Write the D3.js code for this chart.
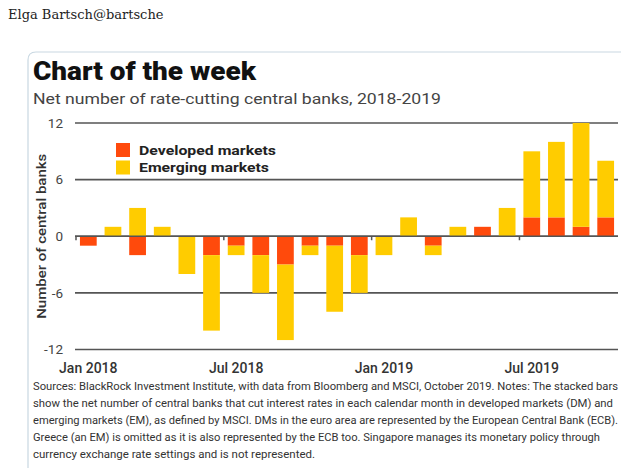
<!DOCTYPE html>
<html>
<head>
<meta charset="utf-8">
<script src="https://cdn.jsdelivr.net/npm/d3@7"></script>
<style>
  html, body { margin: 0; padding: 0; background: #fff; }
  svg { display: block; }
</style>
</head>
<body>
<script>
// ---- data ----
const months = ["Jan 2018","Feb 2018","Mar 2018","Apr 2018","May 2018","Jun 2018",
  "Jul 2018","Aug 2018","Sep 2018","Oct 2018","Nov 2018","Dec 2018",
  "Jan 2019","Feb 2019","Mar 2019","Apr 2019","May 2019","Jun 2019",
  "Jul 2019","Aug 2019","Sep 2019","Oct 2019"];
const developed = [-1, 0, -2, 0, 0, -2, -1, -2, -3, -1, -1, -2, 0, 0, -1, 0, 1, 0, 2, 2, 1, 2];
const emerging  = [ 0, 1,  3, 1, -4, -8, -1, -4, -8, -1, -7, -4, -2, 2, -1, 1, 0, 3, 7, 8, 11, 6];
const seriesNames = ["Developed markets", "Emerging markets"];
const yTicks = [-12, -6, 0, 6, 12];
const xTickLabels = ["Jan 2018", "Jul 2018", "Jan 2019", "Jul 2019"];
const footnote = [
  "Sources: BlackRock Investment Institute, with data from Bloomberg and MSCI, October 2019. Notes: The stacked bars",
  "show the net number of central banks that cut interest rates in each calendar month in developed markets (DM) and",
  "emerging markets (EM), as defined by MSCI. DMs in the euro area are represented by the European Central Bank (ECB).",
  "Greece (an EM) is omitted as it is also represented by the ECB too.  Singapore manages its monetary policy through",
  "currency exchange rate settings and is not represented."
];

// ---- layout ----
const W = 633, H = 468;
const colors = { "Developed markets": "#ff4a0c", "Emerging markets": "#ffcc00" };
const svg = d3.select("body").append("svg").attr("width", W).attr("height", H);

svg.append("text").attr("x", 8).attr("y", 19)
  .attr("font-family", "DejaVu Serif, Georgia, serif").attr("font-size", 13).attr("fill", "#222")
  .text("Elga Bartsch@bartsche");

// card border
svg.append("path").attr("d", "M28,472 V60 Q28,52 36,52 H621")
  .attr("fill", "none").attr("stroke", "#c9d8e2").attr("stroke-width", 1.2);

const g = svg.append("g");

g.append("text").attr("x", 33).attr("y", 80)
  .attr("font-family", "Roboto, Lato, sans-serif").attr("font-weight", 900)
  .attr("font-size", 25).attr("fill", "#111")
  .attr("textLength", 223).attr("lengthAdjust", "spacingAndGlyphs")
  .text("Chart of the week");

g.append("text").attr("x", 33).attr("y", 104)
  .attr("font-family", "Roboto, sans-serif").attr("font-size", 15).attr("fill", "#444")
  .attr("textLength", 408).attr("lengthAdjust", "spacingAndGlyphs")
  .text("Net number of rate-cutting central banks, 2018-2019");

const x = d3.scaleBand().domain(months).range([76, 618]).paddingInner(0.32).paddingOuter(0.16);
const y = d3.scaleLinear().domain([-12, 12]).range([349.5, 123]);

// gridlines
g.append("g").selectAll("line").data(yTicks).join("line")
  .attr("x1", 75).attr("x2", 618)
  .attr("y1", d => y(d)).attr("y2", d => y(d))
  .attr("stroke", "#555").attr("stroke-width", 1.6);

// y tick labels
g.append("g").selectAll("text").data(yTicks).join("text")
  .attr("x", 63).attr("y", d => y(d)).attr("dy", "0.36em")
  .attr("text-anchor", "end")
  .attr("font-family", "Roboto, sans-serif").attr("font-size", 13.5).attr("fill", "#444")
  .text(d => d);

// y axis title
g.append("text")
  .attr("transform", `translate(46,${y(0)}) rotate(-90)`)
  .attr("text-anchor", "middle")
  .attr("font-family", "Roboto, sans-serif").attr("font-weight", 500)
  .attr("font-size", 13).attr("fill", "#333")
  .attr("textLength", 165).attr("lengthAdjust", "spacingAndGlyphs")
  .text("Number of central banks");

// stacked bars
const table = months.map((m, i) => ({ month: m, "Developed markets": developed[i], "Emerging markets": emerging[i] }));
const stack = d3.stack().keys(seriesNames).offset(d3.stackOffsetDiverging)(table);

g.append("g").selectAll("g").data(stack).join("g")
  .attr("fill", s => colors[s.key])
  .selectAll("rect").data(s => s).join("rect")
  .attr("x", d => x(d.data.month))
  .attr("width", x.bandwidth())
  .attr("y", d => y(Math.max(d[0], d[1])))
  .attr("height", d => Math.abs(y(d[0]) - y(d[1])));

// zero-line redraw over bars
g.append("line").attr("x1", 75).attr("x2", 618).attr("y1", y(0)).attr("y2", y(0))
  .attr("stroke", "#555").attr("stroke-width", 1.6);

// small boundary ticks at half-year starts
g.append("g").selectAll("line").data(xTickLabels).join("line")
  .attr("x1", d => x(d) - x.step() * x.paddingInner() / 2)
  .attr("x2", d => x(d) - x.step() * x.paddingInner() / 2)
  .attr("y1", y(0)).attr("y2", y(0) + 4)
  .attr("stroke", "#555").attr("stroke-width", 1.5);

// x labels
g.append("g").selectAll("text").data(xTickLabels).join("text")
  .attr("x", d => x(d) + x.bandwidth() / 2).attr("y", 373)
  .attr("text-anchor", "middle")
  .attr("font-family", "Roboto, sans-serif").attr("font-weight", 500)
  .attr("font-size", 14).attr("fill", "#333")
  .text(d => d);

// legend
const legWidths = [137, 130];
const leg = g.append("g").attr("transform", "translate(116,143)");
seriesNames.forEach((s, i) => {
  leg.append("rect").attr("x", 0).attr("y", i * 17.5).attr("width", 14).attr("height", 14)
    .attr("fill", colors[s]);
  leg.append("text").attr("x", 23).attr("y", i * 17.5 + 11.5)
    .attr("font-family", "Roboto, sans-serif").attr("font-weight", 700)
    .attr("font-size", 13).attr("fill", "#222")
    .attr("textLength", legWidths[i]).attr("lengthAdjust", "spacingAndGlyphs")
    .text(s);
});

// footnote
const fnWidths = [585, 580, 585, 567, 282];
g.append("g").selectAll("text").data(footnote).join("text")
  .attr("x", 33).attr("y", (d, i) => 390 + i * 17)
  .attr("font-family", "Roboto, sans-serif").attr("font-size", 11.2).attr("fill", "#333")
  .attr("textLength", (d, i) => fnWidths[i]).attr("lengthAdjust", "spacingAndGlyphs")
  .text(d => d);
</script>
</body>
</html>
